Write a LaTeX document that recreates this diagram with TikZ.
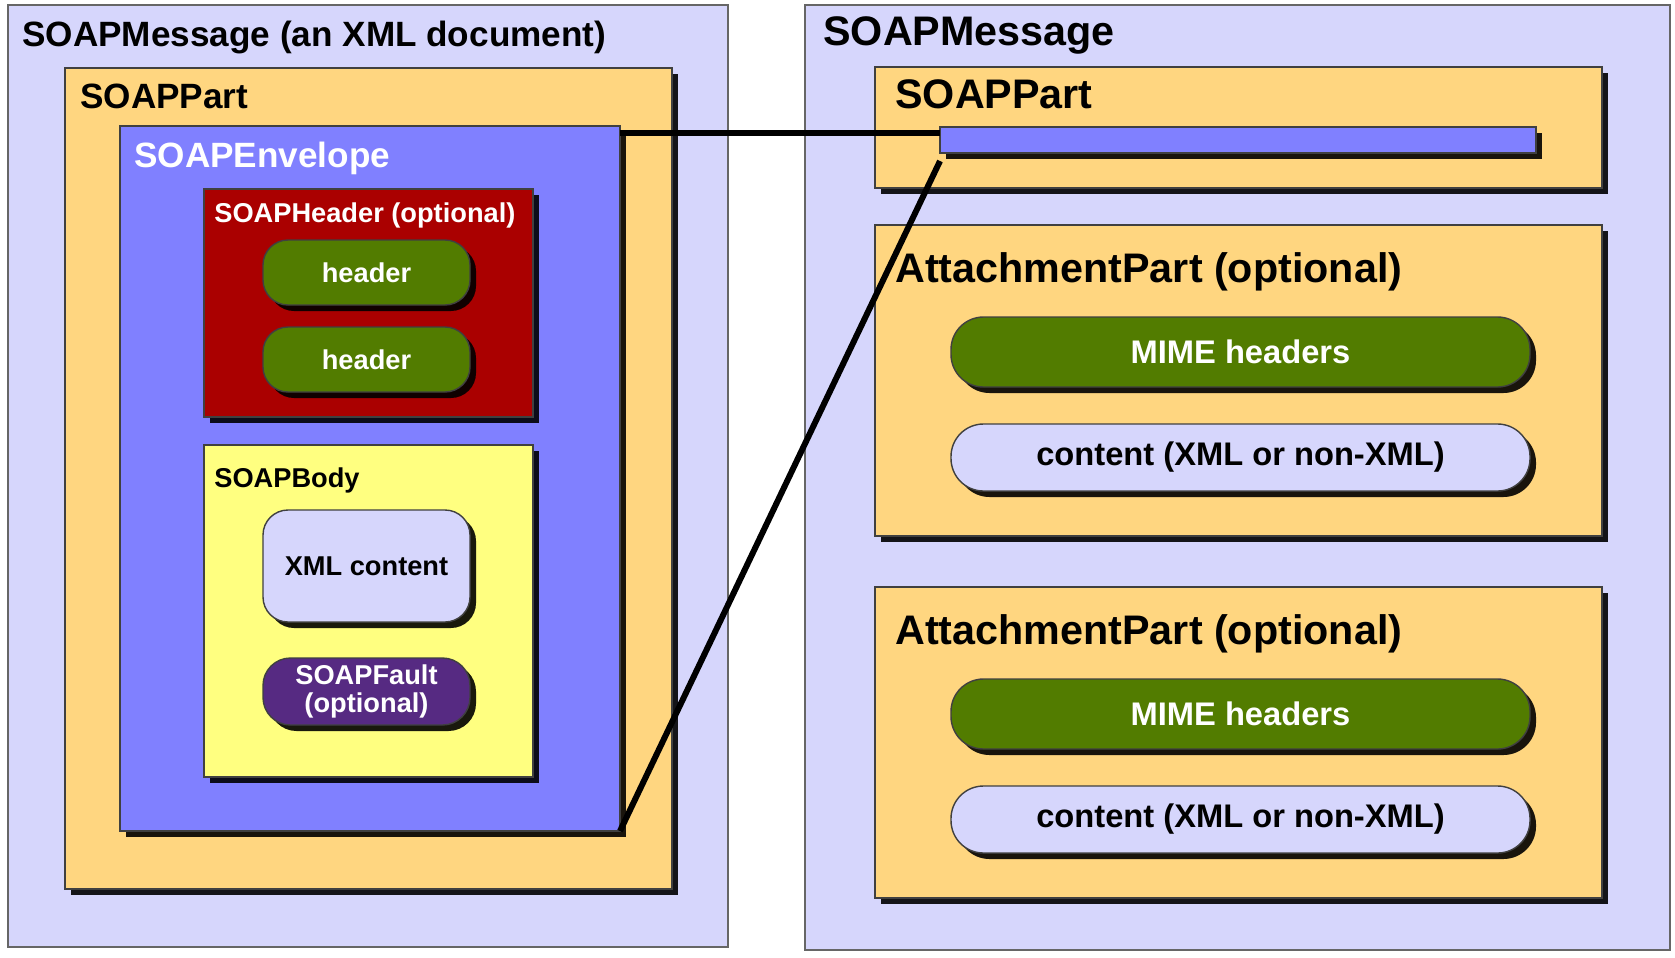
\documentclass[tikz,border=0pt]{standalone}
\usepackage{fontspec}
\setmainfont{Liberation Sans}
\usetikzlibrary{fit,shadows}

\definecolor{msglav}{RGB}{214,214,252}
\definecolor{partpeach}{RGB}{255,214,128}
\definecolor{envblue}{RGB}{128,128,255}
\definecolor{hdrred}{RGB}{170,0,0}
\definecolor{leafgreen}{RGB}{82,124,0}
\definecolor{bodyyellow}{RGB}{255,255,128}
\definecolor{faultpurple}{RGB}{86,42,130}

\tikzset{
	frame/.style={draw=black!75, line width=0.8pt, inner sep=0pt, outer sep=0pt},
	outerbox/.style={frame, draw=black!60, line width=1.3pt, fill=msglav},
	part/.style={frame, drop shadow={shadow xshift=0.12cm, shadow yshift=-0.12cm, fill=black, opacity=0.9}},
	pill/.style={part, rounded corners=#1},
	pill/.default=0.5cm,
	bigtitle/.style={font=\bfseries\fontsize{20}{24}\selectfont, inner sep=0pt, anchor=base west},
	hugetitle/.style={font=\bfseries\fontsize{23.5}{28}\selectfont, inner sep=0pt, anchor=base west},
	smalltitle/.style={font=\bfseries\fontsize{15.5}{18}\selectfont, inner sep=0pt, anchor=base west},
	smalltext/.style={font=\bfseries\fontsize{15.5}{16}\selectfont, inner sep=0pt, align=center},
	mimetext/.style={font=\bfseries\fontsize{18.6}{22}\selectfont, inner sep=0pt},
	link/.style={draw=black, line width=3.4pt}
}

\begin{document}
\begin{tikzpicture}[x=0.02cm, y=-0.02cm]
	%%%%% START %%%%%
	
	\fill[white] (0,0) rectangle (1675,957);
	\useasboundingbox (0,0) rectangle (1675,957);
	
	% left: the message as an XML document
	\node[outerbox, fit={(8,5) (728,947)}] (msgL) {};
	\node[bigtitle] (msgLlbl) at (22,46) {SOAPMessage (an XML document)};
	
	\node[part, fill=partpeach, fit={(65,68) (672,889)}] (partL) {};
	\node[bigtitle] (partLlbl) at (80,108) {SOAPPart};
	
	\node[part, fill=envblue, fit={(120,126) (620,831)}] (env) {};
	\node[bigtitle, text=white] (envlbl) at (134,167) {SOAPEnvelope};
	
	\node[part, fill=hdrred, fit={(204,189) (533,417)}] (hdr) {};
	\node[smalltitle, text=white] (hdrlbl) at (214,222) {SOAPHeader (optional)};
	\node[pill, fill=leafgreen, fit={(263,240) (470,305)}] (hdrA) {};
	\node[smalltext, text=white] (hdrAlbl) at (hdrA.center) {header};
	\node[pill, fill=leafgreen, fit={(263,327) (470,392)}] (hdrB) {};
	\node[smalltext, text=white] (hdrBlbl) at (hdrB.center) {header};
	
	\node[part, fill=bodyyellow, fit={(204,445) (533,777)}] (body) {};
	\node[smalltitle] (bodylbl) at (214,487) {SOAPBody};
	\node[pill, fill=msglav, fit={(263,510) (470,622)}] (xml) {};
	\node[smalltext] (xmllbl) at (xml.center) {XML content};
	\node[pill=0.55cm, fill=faultpurple, fit={(263,658) (470,725)}] (fault) {};
	\node[smalltext, text=white] (faultlbl) at (fault.center) {SOAPFault\\(optional)};
	
	% right: the message with attachments
	\node[outerbox, fit={(805,5) (1670,950)}] (msgR) {};
	\node[hugetitle] (msgRlbl) at (823,45) {SOAPMessage};
	
	\node[part, fill=partpeach, fit={(875,67) (1602,188)}] (partR) {};
	\node[hugetitle] (partRlbl) at (895,108) {SOAPPart};
	\node[part, fill=envblue, fit={(940,127) (1536,153)}] (bar) {};
	
	\foreach \y/\n in {225/attA, 587/attB}{
		\node[part, fill=partpeach, fit={(875,\y) (1602,\y+311)}] (\n) {};
		\node[hugetitle] (\n-lbl) at (895,\y+57) {AttachmentPart (optional)};
		\node[pill=0.65cm, fill=leafgreen, fit={(951,\y+92) (1530,\y+162)}] (\n-mime) {};
		\node[mimetext, text=white] (\n-mimelbl) at (\n-mime.center) {MIME headers};
		\node[pill=0.65cm, fill=msglav, fit={(951,\y+199) (1530,\y+266)}] (\n-data) {};
		\node[mimetext] (\n-datalbl) at (\n-data.center) {content (XML or non-XML)};
	}
	
	% envelope stands for the bar
	\coordinate (barNW) at ([yshift=-0.12cm]bar.north west);
	\coordinate (barSW) at ([yshift=-0.16cm]bar.south west);
	\draw[link] (barNW -| env.east) -- (barNW);
	\draw[link] (env.south east) -- (barSW);
	
	%%%%% END %%%%%
\end{tikzpicture}
\end{document}
